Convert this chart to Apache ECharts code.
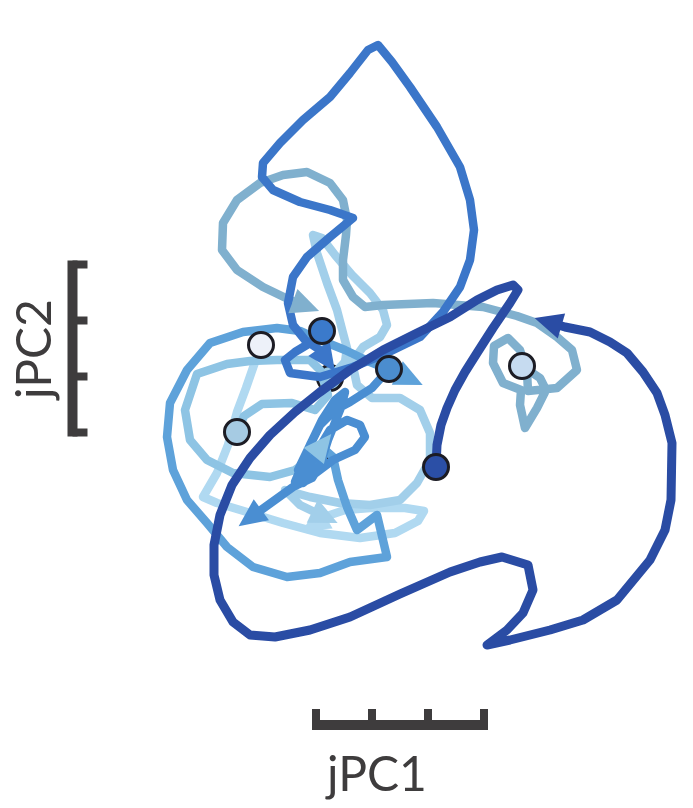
<!DOCTYPE html>
<html><head><meta charset="utf-8">
<script src="https://cdn.jsdelivr.net/npm/echarts@6/dist/echarts.min.js"></script>
<style>html,body{margin:0;padding:0;background:#fff}#c{width:693px;height:808px}</style>
</head><body><div id="c"></div>
<script>
// Trajectories in jPC space (arbitrary units; one scale-bar step = 11.2 units)
const trajLightest = [[-27.8,21],[-29.2,17],[-30.8,12.4],[-32.6,7.6],[-34.4,1],[-36.6,-4.6],[-39.4,-9.4],[-36.6,-10.6],[-30.6,-12.4],[-23.4,-14.6],[-16,-16.6],[-8,-17.6],[-1,-16.6],[3.6,-14.2],[4.8,-12.2],[1,-11.6],[-6,-11.6],[-11,-12],[-14,-13],[-17.2,-14.8]];
const trajLight = [[-14,14.4],[-11,17.6],[-10.6,20.4],[-11.4,23.4],[-12.6,28],[-14.6,33.4],[-16.6,39.4],[-17.4,43],[-15.6,42.4],[-13,39],[-9.6,35],[-6,31.4],[-3.4,28],[-2.6,25],[-4,22.6],[-7.4,20.6],[-9.6,17.6],[-8.6,13],[-5.6,10.4],[0,10.4],[4,8],[6,3.4],[6,-2],[3.4,-6.6],[0,-10],[-6,-11],[-12,-10.6],[-18,-9.4],[-23,-8],[-20,-11],[-15,-13.4]];
const trajPale = [[-32.6,3.6],[-31.2,6.8],[-27.6,9.2],[-21.6,9.4],[-17,8],[-14.4,11],[-16,16],[-18,18],[-24.6,18],[-30,17.8],[-34.6,17.2],[-40.6,15.2],[-43,8],[-42,2],[-38.6,-2],[-33.4,-4.6],[-26,-5.4],[-21,-4],[-17.5,-1.5],[-15.5,1]];
const trajSteel = [[24.4,16.8],[28,14.4],[29.2,12],[27.4,8.4],[25,4.4],[24,9],[24.2,12],[20.6,13.4],[18.6,17.4],[18.8,20.8],[21.6,22.4],[24,20],[25.4,15.6],[25.6,11.8],[31.4,12.4],[35.4,16],[34.4,20],[31.4,22.6],[27.4,25.4],[23.4,26.8],[16.6,28.6],[6.6,29.4],[-3.4,29],[-7,28.6],[-9.4,30.6],[-11.4,34],[-11.4,38],[-10.8,43],[-10.6,46],[-11.4,50],[-14,53.4],[-18.6,55.6],[-23.4,55],[-28,53.4],[-32.6,50],[-35.4,45.4],[-35.6,40],[-32.6,36],[-27.4,32.6],[-22,30],[-18.8,28.8]];
const trajMedium = [[-16.8,-1.8],[-15,0],[-13.4,-1.4],[-12.4,-6],[-10.6,-11.4],[-8.6,-16],[-4.6,-13],[-2.6,-21.4],[-10,-22.4],[-16,-24.6],[-22.6,-25.4],[-29.4,-23.4],[-34.6,-19.4],[-38.6,-14.6],[-42.6,-10],[-45.4,-4],[-46.6,2.6],[-46,9.4],[-42.6,16],[-38,21.4],[-31.4,23.6],[-24.6,24.4],[-20,23.8],[-16,22],[-11,20],[-6,17.6],[-1,15.6],[2,14.2]];
const trajMid = [[-2.2,16.2],[-5.6,12.4],[-10,9.6],[-13,8],[-16,5],[-18,1],[-20,-4],[-21,-6.4],[-19,-5],[-16.4,0],[-14,4],[-10.6,6],[-8,5],[-7,2.6],[-9,0],[-13.4,-2],[-17.4,-5],[-19.4,-6.6],[-20.4,-4],[-18,1],[-15.6,6],[-13,10],[-11,11.6],[-12,8],[-14.4,2],[-16,-3],[-17.6,-5.6],[-21.4,-7.4],[-26.4,-11],[-30,-13.6]];
const trajDrop = [[-15.6,23.8],[-18,21.4],[-21,19.6],[-23,18],[-22,15.4],[-16,14.6],[-9.4,16.6],[-2.6,19.4],[4,22.6],[8.6,27.6],[12,32.6],[14,38],[14.8,44],[14,50],[12,56.6],[7.4,64.6],[2,72.6],[-1.6,77.6],[-4.4,81],[-6.4,80],[-10,75.4],[-14,70.6],[-19.4,66],[-24,61.4],[-27.4,57.4],[-27.6,54.6],[-25.4,52],[-20,49.6],[-14,48],[-9.4,46.4],[-14,42.6],[-18.6,38.6],[-21.4,34.6],[-22.4,29.4],[-21.4,25],[-19,22],[-16,20],[-14.6,18]];
const trajNavy = [[7.2,-3.4],[7.4,1],[8.2,5],[9.4,8.4],[11,12],[13,15.6],[15.4,19.4],[18.6,24.4],[22,29.4],[23.6,32],[22.6,33],[19.4,32],[15.4,30],[10,26.6],[3.4,23.4],[-3.4,20],[-10,16],[-16,11.6],[-21,7.6],[-26,3],[-30,-1.6],[-33.6,-7],[-36,-13],[-37.2,-19],[-37.2,-25],[-36,-30],[-33.4,-34.4],[-30,-37],[-25,-37.4],[-18,-36],[-10,-33.4],[0,-28.8],[10,-24.4],[16,-22.4],[20.4,-21.4],[25.6,-23],[26.6,-28],[24.6,-32.6],[21.4,-36],[17.4,-39],[22,-38],[30,-36],[36.6,-34],[43.4,-30],[50,-22],[53,-16],[54.2,-10],[54.4,1.4],[53,7],[51.4,11.4],[48.6,15.6],[45.4,19.4],[42,21.6],[38,23.6],[33,24.6],[29.6,25.6]];

const trajectories = [trajLightest, trajLight, trajPale, trajSteel, trajMedium, trajMid, trajDrop, trajNavy];
const trajColors = ['#b0d9f1', '#a2cfea', '#8ec4e4', '#80b0ce', '#5ea2da', '#4a8ed2', '#3b76c9', '#2a4ca4'];
const trajWidths = [8.5, 8.5, 8.5, 8.5, 8.5, 8.5, 8.5, 9];

// start points
const startX = [-27.8, -15.6, -2.2, 24.4, -32.6, 7.2, -16.8, -14];
const startY = [21, 23.8, 16.2, 16.8, 3.6, -3.4, -1.8, 14.4];
const startFill = ['#edf1f9', '#3b7acb', '#4b8dcf', '#c6dbf0', '#a6cbe3', '#2b4fa6', '#5a9ad6', '#9ccbe6'];
const startHidden = [false, false, false, false, false, false, true, true];

// scale bars
const jpc1Ticks = [-16.8, -5.6, 5.6, 16.8];
const jpc2Ticks = [3.5, 14.7, 25.9, 37.1];
const jpc1BarY = -55, jpc1TickTop = -51.8;
const jpc2BarX = -65.5, jpc2TickEnd = -62.5;
const barColor = '#3e3c3d';

const chart = echarts.init(document.getElementById('c'), null, {renderer: 'canvas'});

function arrowRot(pts) {
  const a = pts[pts.length - 2], b = pts[pts.length - 1];
  return Math.atan2(b[1] - a[1], b[0] - a[0]) * 180 / Math.PI - 90;
}

const series = [];
const circleStyle = (i) => ({color: startFill[i], borderColor: '#1c1c24', borderWidth: 3, opacity: 1});
startX.forEach((x, i) => {
  if (!startHidden[i]) return;
  series.push({type: 'scatter', z: 1, silent: true, data: [[x, startY[i]]], symbol: 'circle', symbolSize: 25, itemStyle: circleStyle(i)});
});
trajectories.forEach((t, i) => {
  series.push({type: 'line', z: 2, data: t, symbol: 'none', smooth: false, silent: true,
    lineStyle: {color: trajColors[i], width: trajWidths[i], cap: 'round', join: 'round'}});
  series.push({type: 'scatter', z: 2, silent: true, data: [t[t.length - 1]], symbol: 'triangle', symbolSize: [26, 28],
    symbolRotate: arrowRot(t), itemStyle: {color: trajColors[i], opacity: 1}});
});
startX.forEach((x, i) => {
  if (startHidden[i]) return;
  series.push({type: 'scatter', z: 4, silent: true, data: [[x, startY[i]]], symbol: 'circle', symbolSize: 25, itemStyle: circleStyle(i)});
});
// scale bars
const half = 0.8;
series.push({type: 'line', z: 5, symbol: 'none', silent: true,
  data: [[jpc1Ticks[0] - half, jpc1BarY], [jpc1Ticks[3] + half, jpc1BarY]],
  lineStyle: {color: barColor, width: 10, cap: 'butt'}});
jpc1Ticks.forEach(t => series.push({type: 'line', z: 5, symbol: 'none', silent: true,
  data: [[t, jpc1BarY], [t, jpc1TickTop]], lineStyle: {color: barColor, width: 8, cap: 'butt'}}));
series.push({type: 'line', z: 5, symbol: 'none', silent: true,
  data: [[jpc2BarX, jpc2Ticks[0] - half], [jpc2BarX, jpc2Ticks[3] + half]],
  lineStyle: {color: barColor, width: 10, cap: 'butt'}});
jpc2Ticks.forEach(t => series.push({type: 'line', z: 5, symbol: 'none', silent: true,
  data: [[jpc2BarX, t], [jpc2TickEnd, t]], lineStyle: {color: barColor, width: 8, cap: 'butt'}}));

chart.setOption({
  animation: false,
  backgroundColor: '#ffffff',
  grid: {left: 0, right: 0, top: 0, bottom: 0},
  xAxis: {type: 'value', min: -80, max: 58.6, show: false},
  yAxis: {type: 'value', min: -71.6, max: 90, show: false},
  graphic: [
    {type: 'text', left: 327, top: 752, style: {text: 'jPC1', fontFamily: 'Lato', fontSize: 48, fill: barColor}},
    {type: 'text', x: 36, y: 349, rotation: Math.PI / 2,
      style: {text: 'jPC2', fontFamily: 'Lato', fontSize: 48, fill: barColor, align: 'center', verticalAlign: 'middle'}}
  ],
  series: series
});
</script></body></html>
